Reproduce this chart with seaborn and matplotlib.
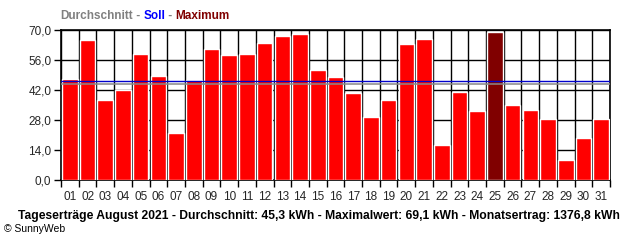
import matplotlib
matplotlib.use("Agg")
import matplotlib.pyplot as plt
import seaborn as sns
import pandas as pd
import numpy as np

days = [f"{d:02d}" for d in range(1, 32)]
values = [47.1, 65.3, 37.5, 41.9, 58.9, 48.5, 22.1, 46.7, 61.1, 58.3, 58.9,
          63.9, 67.3, 68.3, 51.3, 48.1, 40.6, 29.4, 37.3, 63.6, 65.8, 16.5,
          41.1, 32.2, 69.1, 35.0, 32.7, 28.5, 9.3, 19.7, 28.5]
average_line = 44.8
target_line = 46.0
yticks = [0, 14, 28, 42, 56, 70]

sns.set_theme(style="white")
plt.rcParams['font.family'] = ['Liberation Sans', 'DejaVu Sans']

df = pd.DataFrame({"day": days, "kwh": values})
maxv = max(values)
colors = ["#800000" if v == maxv else "#ff0000" for v in values]

fig = plt.figure(figsize=(6.4, 2.4), dpi=100)
ax = fig.add_axes([61/640, 1-180/240, 549/640, 150/240])

sns.barplot(data=df, x="day", y="kwh", hue="day", palette=colors, legend=False,
            width=0.88, saturation=1, ax=ax, zorder=3)

n = len(days)
ax.set_xlim(-0.5, n - 0.5)
ax.set_ylim(0, 70)
for b in np.arange(-0.5, n, 1.0):
    ax.axvline(b, color="black", lw=1.0, zorder=1)
for t in yticks:
    ax.axhline(t, color="black", lw=1.0, zorder=1)

ax.axhline(target_line, color="#0000cc", lw=1.0, zorder=4)
ax.axhline(average_line, color="#888888", lw=1.1, zorder=4)

ax.set_yticks(yticks)
ax.set_yticklabels([f"{t:.1f}".replace(".", ",") for t in yticks], fontsize=8.5)
ax.set_xticks(range(n))
ax.set_xticklabels(days, fontsize=8.5)
ax.set_xticks(np.arange(-0.5, n, 1.0), minor=True)
ax.tick_params(axis="x", which="major", length=0, pad=8)
ax.tick_params(axis="x", which="minor", length=5, width=1, color="black", bottom=True)
ax.tick_params(axis="y", length=5, width=1, color="black", left=True, pad=2)
ax.set_xlabel("")
ax.set_ylabel("")
for s in ax.spines.values():
    s.set_color("black")
    s.set_linewidth(1.2)

# Top legend line
y_top = 1 - 16/240
parts = [("Durchschnitt", "#808080"), (" - ", "#808080"), ("Soll", "#0000ff"),
         (" - ", "#808080"), ("Maximum", "#800000")]
x = 60/640
renderer = fig.canvas.get_renderer()
for txt, c in parts:
    t = fig.text(x, y_top, txt, color=c, fontsize=8.5, fontweight="bold", va="center", ha="left")
    bb = t.get_window_extent(renderer=renderer)
    x += bb.width / 640

fig.text(18/640, 1 - 216/240,
         "Tageserträge August 2021 - Durchschnitt: 45,3 kWh - Maximalwert: 69,1 kWh - Monatsertrag: 1376,8 kWh",
         fontsize=8.7, fontweight="bold", va="center", ha="left", color="black")
fig.text(4/640, 1 - 229/240, "© SunnyWeb", fontsize=7.5, va="center", ha="left", color="black")

fig.savefig("out.png", dpi=100, facecolor="white")
